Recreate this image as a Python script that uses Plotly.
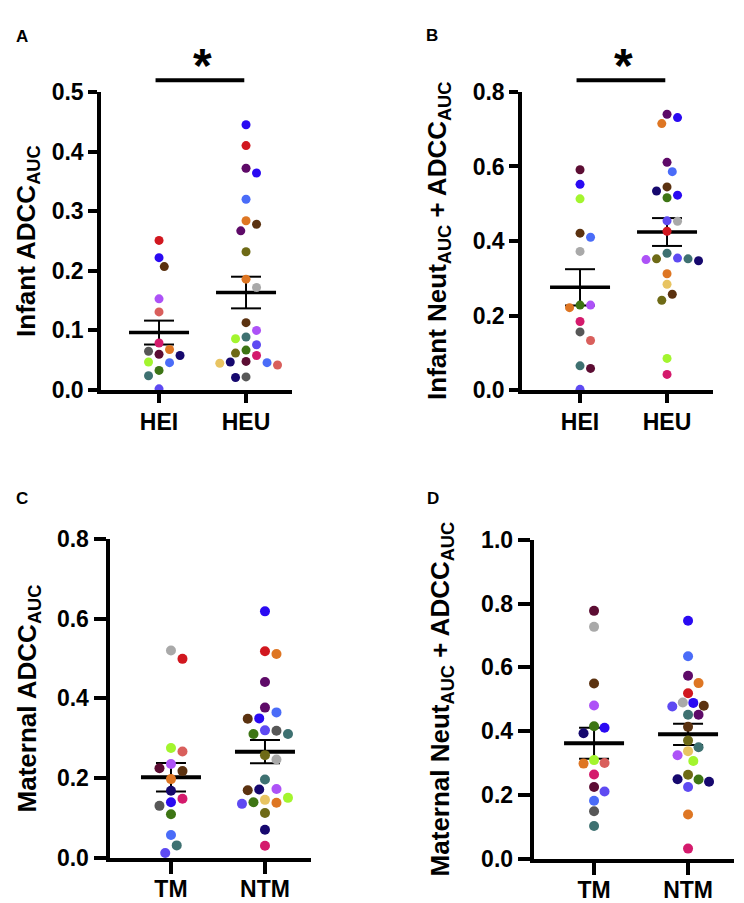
import numpy as np
import plotly.graph_objects as go

W, H = 744, 903
FONT = "Liberation Sans, Arial, Helvetica, sans-serif"

PAL = {
    'red': '#d1171f', 'blue': '#2a0af2', 'brown': '#5b3210', 'lpurple': '#ad52f7',
    'salmon': '#d95f5c', 'maroon': '#5c0d33', 'dpurple': '#5e0a68', 'olive': '#6e6a16',
    'gray': '#a9a9a9', 'orange': '#de7623', 'magenta': '#d41a6c', 'dgray': '#575757',
    'teal': '#3e7171', 'navy': '#16086e', 'green': '#3d7514', 'lime': '#a3f52e',
    'cblue': '#4a6cf8', 'slate': '#5e4af2', 'tan': '#e8c462'}

# ---------------- data ----------------
A_groups = ['HEI', 'HEU']
A_HEI = [0.251, 0.222, 0.207, 0.153, 0.131, 0.079, 0.068, 0.065, 0.060, 0.058, 0.047, 0.046, 0.033, 0.024, 0.002]
A_HEI_c = ['red', 'blue', 'brown', 'lpurple', 'salmon', 'magenta', 'orange', 'dgray', 'maroon', 'navy', 'lime', 'cblue', 'green', 'teal', 'slate']
A_HEU = [0.445, 0.410, 0.372, 0.364, 0.320, 0.284, 0.278, 0.267, 0.232, 0.186, 0.172, 0.113, 0.100, 0.089, 0.086, 0.076,
         0.067, 0.062, 0.058, 0.048, 0.047, 0.046, 0.045, 0.042, 0.022, 0.021]
A_HEU_c = ['blue', 'red', 'dpurple', 'blue', 'cblue', 'orange', 'brown', 'dpurple', 'olive', 'orange', 'gray', 'brown', 'lpurple',
           'teal', 'lime', 'slate', 'green', 'olive', 'magenta', 'maroon', 'navy', 'cblue', 'tan', 'salmon', 'dgray', 'navy']

B_groups = ['HEI', 'HEU']
B_HEI = [0.591, 0.552, 0.513, 0.421, 0.410, 0.372, 0.228, 0.228, 0.221, 0.184, 0.156, 0.133, 0.065, 0.058, 0.002]
B_HEI_c = ['maroon', 'blue', 'lime', 'brown', 'cblue', 'gray', 'green', 'lpurple', 'orange', 'magenta', 'dgray', 'salmon', 'teal', 'maroon', 'slate']
B_HEU = [0.740, 0.731, 0.715, 0.611, 0.586, 0.545, 0.534, 0.523, 0.516, 0.454, 0.453, 0.426, 0.367, 0.354, 0.352, 0.352,
         0.350, 0.347, 0.312, 0.284, 0.257, 0.241, 0.085, 0.042]
B_HEU_c = ['dpurple', 'blue', 'orange', 'dpurple', 'cblue', 'brown', 'navy', 'blue', 'green', 'slate', 'gray', 'red', 'teal',
           'slate', 'olive', 'teal', 'lpurple', 'navy', 'orange', 'tan', 'brown', 'olive', 'lime', 'magenta']

C_groups = ['TM', 'NTM']
C_TM = [0.520, 0.499, 0.276, 0.267, 0.236, 0.225, 0.218, 0.198, 0.169, 0.149, 0.140, 0.131, 0.110, 0.058, 0.032, 0.013]
C_TM_c = ['gray', 'red', 'lime', 'salmon', 'lpurple', 'maroon', 'brown', 'orange', 'navy', 'magenta', 'blue', 'dgray', 'green', 'cblue', 'teal', 'slate']
C_NTM = [0.618, 0.518, 0.511, 0.441, 0.377, 0.365, 0.350, 0.349, 0.320, 0.319, 0.311, 0.311, 0.258, 0.247, 0.197, 0.173,
         0.172, 0.170, 0.151, 0.146, 0.140, 0.139, 0.136, 0.113, 0.071, 0.031]
C_NTM_c = ['blue', 'red', 'orange', 'dpurple', 'dpurple', 'cblue', 'blue', 'brown', 'slate', 'dgray', 'green', 'teal', 'olive',
           'gray', 'teal', 'lpurple', 'navy', 'brown', 'lime', 'tan', 'green', 'orange', 'slate', 'olive', 'navy', 'magenta']

D_groups = ['TM', 'NTM']
D_TM = [0.777, 0.727, 0.550, 0.481, 0.416, 0.411, 0.394, 0.310, 0.301, 0.299, 0.265, 0.226, 0.212, 0.183, 0.150, 0.104]
D_TM_c = ['maroon', 'gray', 'brown', 'lpurple', 'green', 'blue', 'navy', 'lime', 'salmon', 'orange', 'magenta', 'maroon',
          'slate', 'cblue', 'dgray', 'teal']
D_NTM = [0.746, 0.635, 0.574, 0.551, 0.519, 0.490, 0.489, 0.480, 0.478, 0.452, 0.452, 0.414, 0.371, 0.350, 0.338, 0.325,
         0.307, 0.264, 0.250, 0.249, 0.242, 0.226, 0.140, 0.033]
D_NTM_c = ['blue', 'cblue', 'dpurple', 'orange', 'red', 'gray', 'blue', 'brown', 'slate', 'teal', 'dpurple', 'brown', 'olive',
           'teal', 'tan', 'lpurple', 'lime', 'olive', 'navy', 'green', 'navy', 'slate', 'orange', 'magenta']

# ---------------- layout geometry (pixels) ----------------
panels = [
    dict(letter='A', ax='', groups=A_groups, series=[A_HEI, A_HEU], cols=[A_HEI_c, A_HEU_c],
         title='<b>Infant ADCC<sub>AUC</sub></b>', ymax=0.5, dtick=0.1,
         xl=93, xr=284, ppx=87, r0=0.333, yt=73, yb=380, lw=3.5, ms=9, sp=10.5, tl=9, xstand=0,
         title_x=20, letter_xy=(13.5, 16), sig=True),
    dict(letter='B', ax='2', groups=B_groups, series=[B_HEI, B_HEU], cols=[B_HEI_c, B_HEU_c],
         title='<b>Infant Neut<sub>AUC</sub> + ADCC<sub>AUC</sub></b>', ymax=0.8, dtick=0.2,
         xl=514, xr=705, ppx=87, r0=0.333, yt=73, yb=380, lw=3.5, ms=9, sp=10.5, tl=9, xstand=0,
         title_x=431, letter_xy=(423.5, 15), sig=True),
    dict(letter='C', ax='3', groups=C_groups, series=[C_TM, C_NTM], cols=[C_TM_c, C_NTM_c],
         title='<b>Maternal ADCC<sub>AUC</sub></b>', ymax=0.8, dtick=0.2,
         xl=101.5, xr=303, ppx=94, r0=0.346, yt=533, yb=862, lw=4, ms=10, sp=11.5, tl=12, xstand=-5,
         title_x=20, letter_xy=(13.5, 491.5), sig=False),
    dict(letter='D', ax='4', groups=D_groups, series=[D_TM, D_NTM], cols=[D_TM_c, D_NTM_c],
         title='<b>Maternal Neut<sub>AUC</sub> + ADCC<sub>AUC</sub></b>', ymax=1.0, dtick=0.2,
         xl=525.7, xr=726, ppx=94, r0=0.358, yt=534, yb=863, lw=4, ms=10, sp=10.5, tl=12, xstand=-5,
         title_x=433, letter_xy=(425, 491.5), sig=False),
]


def swarm(vals, xc, ppx, ppy, spacing):
    vals = np.asarray(vals, dtype=float)
    order = np.argsort(-vals, kind='stable')
    placed = []
    xs = np.zeros(len(vals))
    h = spacing / 2.0
    for i in order:
        yp = vals[i] * ppy
        near = sum(px for px, py in placed if abs(py - yp) < 2 * spacing)
        best = None
        for k in range(0, 60):
            if k == 0:
                cands = [0.0]
            else:
                cands = [-k * h, k * h] if near > 0 else [k * h, -k * h]
            for c in cands:
                if all((c - px) ** 2 + (yp - py) ** 2 >= (spacing - 0.01) ** 2 for px, py in placed):
                    best = c
                    break
            if best is not None:
                break
        placed.append((best, yp))
        xs[i] = xc + best / ppx
    return xs


fig = go.Figure()
annotations = []
shapes = []
layout_axes = {}

for p in panels:
    xa = 'x' + p['ax']
    ya = 'y' + p['ax']
    ppx = p['ppx']
    r0 = p['r0']
    r1 = r0 + (p['xr'] - p['xl']) / ppx
    ppy = (p['yb'] - p['yt']) / p['ymax']
    for gi, (vals, cols) in enumerate(zip(p['series'], p['cols'])):
        xc = gi + 1
        arr = np.asarray(vals, dtype=float)
        m = arr.mean()
        sem = arr.std(ddof=1) / np.sqrt(len(arr))
        mw = 30.0 / ppx
        cw = 15.0 / ppx
        fig.add_trace(go.Scatter(x=[xc, xc], y=[m - sem, m + sem], mode='lines', xaxis=xa, yaxis=ya,
                                 line=dict(color='black', width=2), hoverinfo='skip', showlegend=False))
        for yy in (m - sem, m + sem):
            fig.add_trace(go.Scatter(x=[xc - cw, xc + cw], y=[yy, yy], mode='lines', xaxis=xa, yaxis=ya,
                                     line=dict(color='black', width=2), hoverinfo='skip', showlegend=False))
        fig.add_trace(go.Scatter(x=[xc - mw, xc + mw], y=[m, m], mode='lines', xaxis=xa, yaxis=ya,
                                 line=dict(color='black', width=p['lw']), hoverinfo='skip', showlegend=False))
        xs = swarm(vals, xc, ppx, ppy, p['sp'])
        fig.add_trace(go.Scatter(x=xs, y=vals, mode='markers', xaxis=xa, yaxis=ya, cliponaxis=False,
                                 marker=dict(size=p['ms'], color=[PAL[c] for c in cols], line=dict(width=0)),
                                 showlegend=False))

    nt = int(round(p['ymax'] / p['dtick']))
    tickv = [round(k * p['dtick'], 3) for k in range(nt + 1)]
    common = dict(showline=True, linewidth=p['lw'], linecolor='black', ticks='outside', ticklen=p['tl'],
                  tickwidth=p['lw'], tickcolor='black', showgrid=False, zeroline=False, fixedrange=True,
                  tickfont=dict(family=FONT, size=23, color='black', weight='bold'))
    layout_axes['xaxis' + p['ax']] = dict(domain=[p['xl'] / W, p['xr'] / W], range=[r0, r1],
                                          tickvals=[1, 2], ticktext=p['groups'], anchor=ya,
                                          ticklabelstandoff=p['xstand'], **common)
    layout_axes['yaxis' + p['ax']] = dict(domain=[1 - p['yb'] / H, 1 - p['yt'] / H], range=[0, p['ymax']],
                                          tickvals=tickv, ticktext=['%.1f' % v for v in tickv], anchor=xa, **common)
    annotations.append(dict(text=p['title'], x=p['title_x'] / W, y=1 - (p['yt'] + p['yb']) / 2 / H,
                            xref='paper', yref='paper', textangle=-90, showarrow=False,
                            xanchor='center', yanchor='middle',
                            font=dict(family=FONT, size=26, color='black')))
    annotations.append(dict(text='<b>%s</b>' % p['letter'], x=p['letter_xy'][0] / W, y=1 - p['letter_xy'][1] / H,
                            xref='paper', yref='paper', showarrow=False, xanchor='center', yanchor='middle',
                            font=dict(family=FONT, size=17, color='black')))
    if p['sig']:
        shapes.append(dict(type='line', xref=xa, yref='paper', x0=0.96, x1=1.98, y0=1 - 61 / H, y1=1 - 61 / H,
                           line=dict(color='black', width=4)))
        annotations.append(dict(text='<b>*</b>', x=1.5, y=1 - 46 / H, xref=xa, yref='paper', showarrow=False,
                                xanchor='center', yanchor='middle',
                                font=dict(family=FONT, size=48, color='black')))

fig.update_layout(width=W, height=H, margin=dict(l=0, r=0, t=0, b=0), paper_bgcolor='white',
                  plot_bgcolor='white', showlegend=False, annotations=annotations, shapes=shapes,
                  font=dict(family=FONT, color='black'), **layout_axes)

fig.write_html("out.html")
